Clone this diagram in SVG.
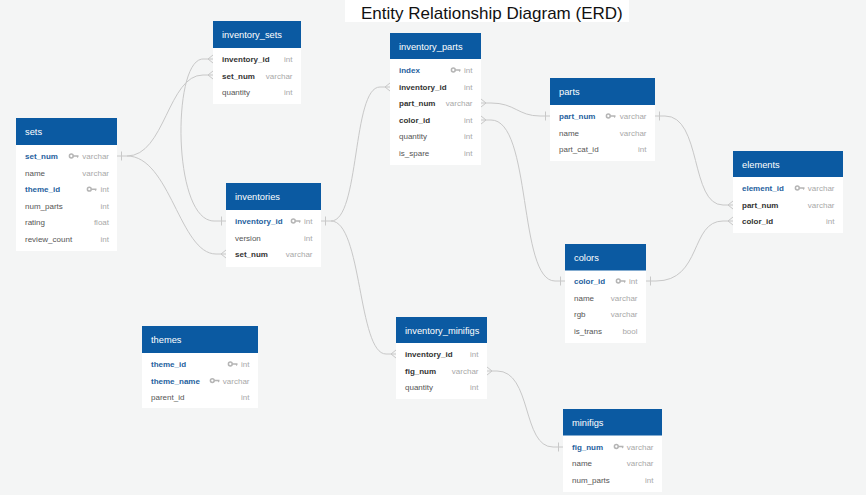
<svg xmlns="http://www.w3.org/2000/svg" xmlns:xlink="http://www.w3.org/1999/xlink" width="866" height="495" viewBox="0 0 866 495">
<style>
.bg{fill:#f4f5f5}
.body{fill:#ffffff}
.hdr{fill:#0b5aa2}
.ht{font-family:"Liberation Sans",Arial,sans-serif;font-size:9.3px;fill:#ffffff}
.f{font-family:"Liberation Sans",Arial,sans-serif;font-size:8px;fill:#555555}
.fk{font-family:"Liberation Sans",Arial,sans-serif;font-size:8px;fill:#333333;font-weight:bold}
.pk{font-family:"Liberation Sans",Arial,sans-serif;font-size:8px;fill:#1f5f9e;font-weight:bold}
.t{font-family:"Liberation Sans",Arial,sans-serif;font-size:8px;fill:#a8a8a8;text-anchor:end}
.c{fill:none;stroke:#c8c8c8;stroke-width:1}
.title{font-family:"Liberation Sans",Arial,sans-serif;font-size:17px;fill:#111111}
</style>
<defs>
<g id="key">
<circle cx="2.3" cy="2.5" r="1.9" fill="none" stroke="#b5b5b5" stroke-width="1.5"/>
<path d="M4.2,1.7 H9.5 V3.2 L8.6,4.4 L7.7,3.2 H4.2 Z" fill="#b5b5b5"/>
</g>
</defs>
<rect class="bg" x="0" y="0" width="866" height="495"/>
<rect x="345" y="0" width="284" height="22" fill="#ffffff"/>
<text class="title" x="361" y="18.5">Entity Relationship Diagram (ERD)</text>

<g id="connectors">
<path class="c" d="M117,156 L127,156 C165,156 168,75 203,75 L213,75"/>
<path class="c" d="M127,156 C170,156 180,254 216,254 L226,254"/>
<path class="c" d="M121.5,151.5 V160.5"/>
<path class="c" d="M208,75 L213,71 M208,75 L213,79"/>
<path class="c" d="M221,254 L226,250 M221,254 L226,258"/>
<path class="c" d="M213,59 L203,59 C172,59 172,221 214,221 L226,221"/>
<path class="c" d="M208,59 L213,55 M208,59 L213,63"/>
<path class="c" d="M221.5,216.5 V225.5"/>
<path class="c" d="M321,221 L331,221 C360,221 352,87 380,87 L390,87"/>
<path class="c" d="M331,221 C362,221 358,354 386,354 L396,354"/>
<path class="c" d="M325.5,216.5 V225.5"/>
<path class="c" d="M385,87 L390,83 M385,87 L390,91"/>
<path class="c" d="M391,354 L396,350 M391,354 L396,358"/>
<path class="c" d="M481,103 L491,103 C515,103 518,116 540,116 L550,116"/>
<path class="c" d="M486,103 L481,99 M486,103 L481,107"/>
<path class="c" d="M545.5,111.5 V120.5"/>
<path class="c" d="M481,120 L491,120 C532,120 518,281 555,281 L565,281"/>
<path class="c" d="M486,120 L481,116 M486,120 L481,124"/>
<path class="c" d="M560.5,276.5 V285.5"/>
<path class="c" d="M655,116 L665,116 C702,116 690,205 723,205 L733,205"/>
<path class="c" d="M659.5,111.5 V120.5"/>
<path class="c" d="M728,205 L733,201 M728,205 L733,209"/>
<path class="c" d="M646,281 L656,281 C702,281 690,221 723,221 L733,221"/>
<path class="c" d="M650.5,276.5 V285.5"/>
<path class="c" d="M728,221 L733,217 M728,221 L733,225"/>
<path class="c" d="M487,371 L497,371 C532,371 522,447 553,447 L563,447"/>
<path class="c" d="M492,371 L487,367 M492,371 L487,375"/>
<path class="c" d="M558.5,442.5 V451.5"/>
</g>

<g id="sets">
<rect class="body" x="16" y="118" width="101" height="133"/>
<rect class="hdr" x="16" y="118" width="101" height="27"/>
<text class="ht" x="25" y="135">sets</text>
<text class="pk" x="25" y="159">set_num</text><use xlink:href="#key" x="69" y="153.5"/><text class="t" x="109" y="159">varchar</text>
<text class="f" x="25" y="175.6">name</text><text class="t" x="109" y="175.6">varchar</text>
<text class="pk" x="25" y="192.2">theme_id</text><use xlink:href="#key" x="87" y="186.7"/><text class="t" x="109" y="192.2">int</text>
<text class="f" x="25" y="208.8">num_parts</text><text class="t" x="109" y="208.8">int</text>
<text class="f" x="25" y="225.4">rating</text><text class="t" x="109" y="225.4">float</text>
<text class="f" x="25" y="242">review_count</text><text class="t" x="109" y="242">int</text>
</g>

<g id="inventory_sets">
<rect class="body" x="213" y="21" width="88" height="83"/>
<rect class="hdr" x="213" y="21" width="88" height="27"/>
<text class="ht" x="222" y="38">inventory_sets</text>
<text class="fk" x="222" y="62">inventory_id</text><text class="t" x="292.5" y="62">int</text>
<text class="fk" x="222" y="78.6">set_num</text><text class="t" x="292.5" y="78.6">varchar</text>
<text class="f" x="222" y="95.2">quantity</text><text class="t" x="292.5" y="95.2">int</text>
</g>

<g id="inventories">
<rect class="body" x="226" y="183" width="95" height="84"/>
<rect class="hdr" x="226" y="183" width="95" height="27"/>
<text class="ht" x="235" y="200">inventories</text>
<text class="pk" x="235" y="224">inventory_id</text><use xlink:href="#key" x="291" y="218.5"/><text class="t" x="312.5" y="224">int</text>
<text class="f" x="235" y="240.6">version</text><text class="t" x="312.5" y="240.6">int</text>
<text class="fk" x="235" y="257.2">set_num</text><text class="t" x="312.5" y="257.2">varchar</text>
</g>

<g id="inventory_parts">
<rect class="body" x="390" y="33" width="91" height="132"/>
<rect class="hdr" x="390" y="33" width="91" height="26"/>
<text class="ht" x="399" y="49.5">inventory_parts</text>
<text class="pk" x="399" y="73">index</text><use xlink:href="#key" x="451" y="67.5"/><text class="t" x="472.5" y="73">int</text>
<text class="fk" x="399" y="89.6">inventory_id</text><text class="t" x="472.5" y="89.6">int</text>
<text class="fk" x="399" y="106.2">part_num</text><text class="t" x="472.5" y="106.2">varchar</text>
<text class="fk" x="399" y="122.8">color_id</text><text class="t" x="472.5" y="122.8">int</text>
<text class="f" x="399" y="139.4">quantity</text><text class="t" x="472.5" y="139.4">int</text>
<text class="f" x="399" y="156">is_spare</text><text class="t" x="472.5" y="156">int</text>
</g>

<g id="parts">
<rect class="body" x="550" y="78" width="105" height="83"/>
<rect class="hdr" x="550" y="78" width="105" height="27"/>
<text class="ht" x="559" y="95">parts</text>
<text class="pk" x="559" y="119">part_num</text><use xlink:href="#key" x="606" y="113.5"/><text class="t" x="646.5" y="119">varchar</text>
<text class="f" x="559" y="135.6">name</text><text class="t" x="646.5" y="135.6">varchar</text>
<text class="f" x="559" y="152.2">part_cat_id</text><text class="t" x="646.5" y="152.2">int</text>
</g>

<g id="elements">
<rect class="body" x="733" y="151" width="110" height="82"/>
<rect class="hdr" x="733" y="151" width="110" height="26"/>
<text class="ht" x="742" y="167.5">elements</text>
<text class="pk" x="742" y="191">element_id</text><use xlink:href="#key" x="795" y="185.5"/><text class="t" x="834.5" y="191">varchar</text>
<text class="fk" x="742" y="207.6">part_num</text><text class="t" x="834.5" y="207.6">varchar</text>
<text class="fk" x="742" y="224.2">color_id</text><text class="t" x="834.5" y="224.2">int</text>
</g>

<g id="colors">
<rect class="body" x="565" y="244" width="81" height="99"/>
<rect class="hdr" x="565" y="244" width="81" height="26.5"/>
<text class="ht" x="574" y="260.5">colors</text>
<text class="pk" x="574" y="284">color_id</text><use xlink:href="#key" x="616" y="278.5"/><text class="t" x="637.5" y="284">int</text>
<text class="f" x="574" y="300.6">name</text><text class="t" x="637.5" y="300.6">varchar</text>
<text class="f" x="574" y="317.2">rgb</text><text class="t" x="637.5" y="317.2">varchar</text>
<text class="f" x="574" y="333.8">is_trans</text><text class="t" x="637.5" y="333.8">bool</text>
</g>

<g id="inventory_minifigs">
<rect class="body" x="396" y="317" width="91" height="82"/>
<rect class="hdr" x="396" y="317" width="91" height="26"/>
<text class="ht" x="405" y="333.5">inventory_minifigs</text>
<text class="fk" x="405" y="357">inventory_id</text><text class="t" x="478.5" y="357">int</text>
<text class="fk" x="405" y="373.6">fig_num</text><text class="t" x="478.5" y="373.6">varchar</text>
<text class="f" x="405" y="390.2">quantity</text><text class="t" x="478.5" y="390.2">int</text>
</g>

<g id="minifigs">
<rect class="body" x="563" y="409" width="99" height="83"/>
<rect class="hdr" x="563" y="409" width="99" height="26.5"/>
<text class="ht" x="572" y="425.5">minifigs</text>
<text class="pk" x="572" y="449.5">fig_num</text><use xlink:href="#key" x="614" y="444"/><text class="t" x="653.5" y="449.5">varchar</text>
<text class="f" x="572" y="466">name</text><text class="t" x="653.5" y="466">varchar</text>
<text class="f" x="572" y="482.7">num_parts</text><text class="t" x="653.5" y="482.7">int</text>
</g>

<g id="themes">
<rect class="body" x="142" y="326" width="116" height="82"/>
<rect class="hdr" x="142" y="326" width="116" height="27"/>
<text class="ht" x="151" y="343">themes</text>
<text class="pk" x="151" y="367">theme_id</text><use xlink:href="#key" x="228" y="361.5"/><text class="t" x="249.5" y="367">int</text>
<text class="pk" x="151" y="383.6">theme_name</text><use xlink:href="#key" x="210" y="378.1"/><text class="t" x="249.5" y="383.6">varchar</text>
<text class="f" x="151" y="400.2">parent_id</text><text class="t" x="249.5" y="400.2">int</text>
</g>
</svg>
